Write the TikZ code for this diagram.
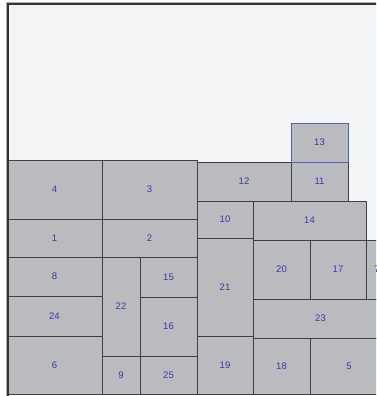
\documentclass[tikz,border=0pt]{standalone}
\usepackage{fontspec}
\setsansfont{Liberation Sans}
\usepackage{tikz}
\definecolor{panelc}{HTML}{F4F5F7}
\definecolor{boxc}{HTML}{B9BBBE}
\definecolor{edgec}{HTML}{404040}
\definecolor{labc}{HTML}{3A3AA0}
\definecolor{selc}{HTML}{5060C8}
\tikzset{
  blk/.style={fill=boxc, draw=edgec, line width=0.9pt},
  sel/.style={draw=selc, line width=1pt},
  lbl/.style={font=\sffamily\fontsize{9.5}{10}\selectfont, text=labc, inner sep=0pt}
}

\begin{document}
\begin{tikzpicture}[x=1pt, y=-1pt]
 \useasboundingbox (0,0) rectangle (376,396);
 \clip (0,0) rectangle (376,396);
 \fill[white] (0,0) rectangle (376,396);
 % panel
 \fill[panelc] (7,3) rectangle (400,394);
 % blocks: label / left / top / right / bottom
 \foreach \n/\xa/\ya/\xb/\yb in {4/7/160/102/219, 3/102/160/197/219, 1/7/219/102/257,
   2/102/219/197/257, 8/7/257/102/296, 24/7/296/102/336, 6/7/336/102/394,
   22/102/257/140/356, 9/102/356/140/394, 15/140/257/197/297, 16/140/297/197/356,
   25/140/356/197/394, 12/197/162/291/201, 11/291/162/348/201, 13/291/123/348/162,
   10/197/201/253/238, 14/253/201/366/240, 21/197/238/253/336, 19/197/336/253/394,
   20/253/240/310/299, 17/310/240/366/299, 7/366/240/388/299, 23/253/299/388/338,
   18/253/338/310/394, 5/310/338/388/394}{
   \draw[blk] (\xa,\ya) rectangle (\xb,\yb);
   \node[lbl] (b\n) at ({(\xa+\xb)/2},{(\ya+\yb)/2}) {\n};}
 \draw[sel] (291,123) rectangle (348,162);
 % frame
 \draw[edgec!80!black, line width=2pt] (8,396) -- (8,4) -- (380,4);
 \draw[gray!60, line width=0.6pt] (6,396) -- (6,2) -- (380,2);
\end{tikzpicture}
\end{document}
